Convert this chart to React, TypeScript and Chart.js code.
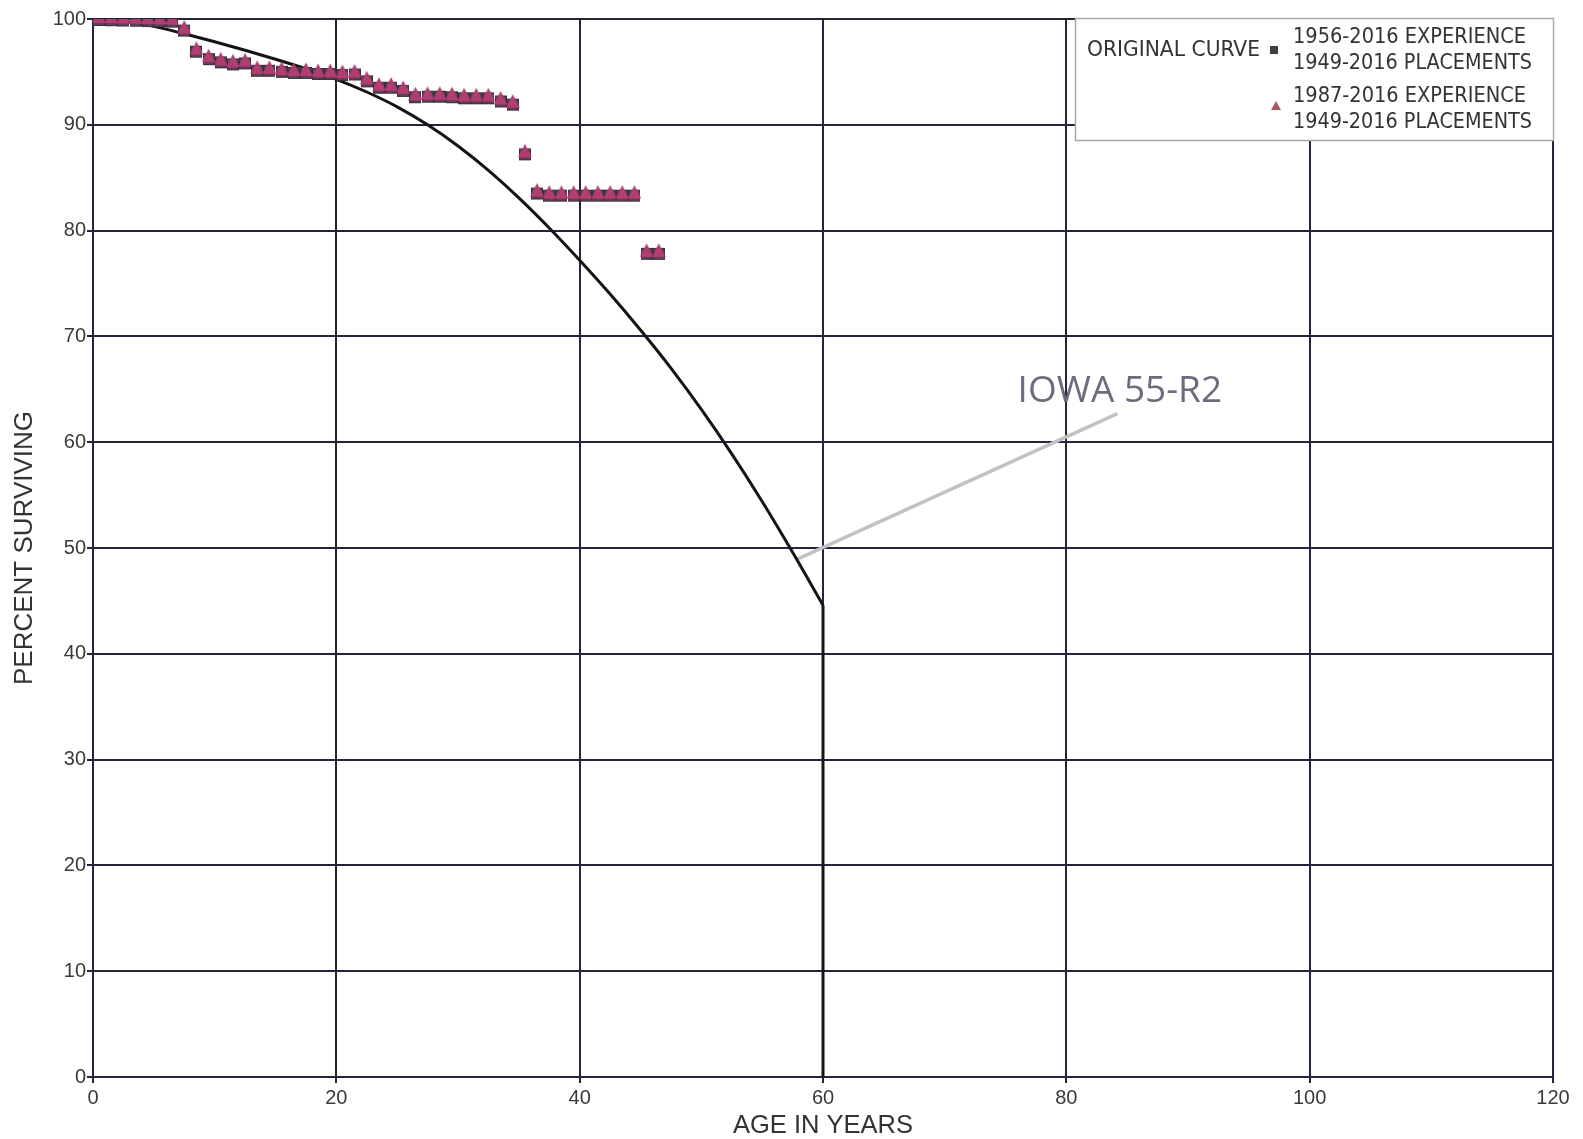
import React, { useEffect, useRef } from "react";
import { Chart, registerables } from "chart.js";

Chart.register(...registerables);

// ---------- data ----------
const expAges = [
  0, 0.5, 1.5, 2.5, 3.5, 4.5, 5.5, 6.5, 7.5, 8.5, 9.5, 10.5, 11.5, 12.5, 13.5, 14.5,
  15.5, 16.5, 17.5, 18.5, 19.5, 20.5, 21.5, 22.5, 23.5, 24.5, 25.5, 26.5, 27.5, 28.5,
  29.5, 30.5, 31.5, 32.5, 33.5, 34.5, 35.5, 36.5, 37.5, 38.5, 39.5, 40.5, 41.5, 42.5,
  43.5, 44.5, 45.5, 46.5,
];
const exp1956 = [
  100, 100, 99.98, 99.95, 99.93, 99.9, 99.88, 99.85, 99.0, 97.0, 96.3, 96.0, 95.8, 95.9,
  95.2, 95.2, 95.1, 95.0, 95.0, 94.9, 94.9, 94.8, 94.85, 94.2, 93.6, 93.6, 93.3, 92.7,
  92.75, 92.75, 92.7, 92.6, 92.6, 92.6, 92.3, 92.0, 87.3, 83.6, 83.4, 83.4, 83.4, 83.4,
  83.4, 83.4, 83.4, 83.4, 77.9, 77.9,
];
const exp1987 = [
  100, 100, 99.98, 99.95, 99.93, 99.9, 99.88, 99.85, 99.0, 97.0, 96.3, 96.0, 95.8, 95.9,
  95.2, 95.2, 95.1, 95.0, 95.0, 94.9, 94.9, 94.8, 94.85, 94.2, 93.6, 93.6, 93.3, 92.7,
  92.75, 92.75, 92.7, 92.6, 92.6, 92.6, 92.3, 92.0, 87.3, 83.6, 83.4, 83.4, 83.4, 83.4,
  83.4, 83.4, 83.4, 83.4, 77.9, 77.9,
];
const curveAges = [
  0, 2.5, 5, 7.5, 10, 12.5, 15, 17.5, 20, 22.5, 25, 27.5, 30, 32.5, 35, 37.5, 40, 42.5,
  45, 47.5, 50, 52.5, 55, 57.5, 60,
];
const curveValues = [
  100, 99.8, 99.3, 98.6, 97.85, 97.05, 96.2, 95.3, 94.3, 93.1, 91.7, 90.0, 88.0, 85.7,
  83.1, 80.25, 77.2, 74.0, 70.6, 67.0, 63.1, 58.9, 54.4, 49.6, 44.6,
];
const dropAges = [60, 60];
const dropValues = [44.6, 0];
const leaderAges = [57.8, 84.2];
const leaderValues = [48.9, 62.7];
const annotationText = "IOWA 55-R2";
const annotationAge = 84.4;
const annotationValue = 64.8;

const xTickStep = 20;
const yTickStep = 10;
const xTitle = "AGE IN YEARS";
const yTitle = "PERCENT SURVIVING";
const legendCurve = "ORIGINAL CURVE";
const legend1 = ["1956-2016 EXPERIENCE", "1949-2016 PLACEMENTS"];
const legend2 = ["1987-2016 EXPERIENCE", "1949-2016 PLACEMENTS"];

const pts = (xs: number[], ys: number[]) => xs.map((x, i) => ({ x, y: ys[i] }));

const GRID = "#24243a";
const TICK_FONT = { family: "'Liberation Sans', Arial, sans-serif", size: 20 };

function fitText(ctx: CanvasRenderingContext2D, text: string, x: number, y: number, w: number) {
  const m = ctx.measureText(text).width;
  ctx.save();
  ctx.translate(x, y);
  ctx.scale(w / m, 1);
  ctx.textAlign = "left";
  ctx.textBaseline = "middle";
  ctx.fillText(text, 0, 0);
  ctx.restore();
}

function makeSquareMarker() {
  const c = document.createElement("canvas");
  c.width = 12;
  c.height = 16;
  const g = c.getContext("2d")!;
  g.fillStyle = "#3e2f3b";
  g.fillRect(0, 3, 12, 12);
  g.fillStyle = "#5c4256";
  g.fillRect(1, 4, 10, 10);
  return c;
}

function makeTriangleMarker() {
  const c = document.createElement("canvas");
  c.width = 14;
  c.height = 22;
  const g = c.getContext("2d")!;
  g.fillStyle = "#b23d70";
  g.beginPath();
  g.moveTo(7, 1.5);
  g.lineTo(13.8, 15);
  g.lineTo(0.2, 15);
  g.closePath();
  g.fill();
  return c;
}

const overlayPlugin = {
  id: "overlay",
  afterDatasetsDraw(chart: any) {
    const ctx = chart.ctx as CanvasRenderingContext2D;
    const xs = chart.scales.x;
    const ys = chart.scales.y;
    ctx.save();
    ctx.font = "37px 'Open Sans', sans-serif";
    ctx.fillStyle = "#6c6c7e";
    ctx.textAlign = "center";
    ctx.textBaseline = "middle";
    ctx.fillText(annotationText, xs.getPixelForValue(annotationAge), ys.getPixelForValue(annotationValue));
    ctx.restore();
  },
  afterDraw(chart: any) {
    const ctx = chart.ctx as CanvasRenderingContext2D;
    ctx.save();
    // legend box
    ctx.fillStyle = "#ffffff";
    ctx.fillRect(1075, 18, 478, 122);
    ctx.strokeStyle = "#a8a8a8";
    ctx.lineWidth = 1.5;
    ctx.strokeRect(1075.5, 18.5, 478, 122);
    ctx.fillStyle = "#333333";
    ctx.font = "22px 'DejaVu Sans Condensed', 'DejaVu Sans', sans-serif";
    fitText(ctx, legendCurve, 1087, 50, 173);
    fitText(ctx, legend1[0], 1293, 37, 233);
    fitText(ctx, legend1[1], 1293, 63, 239);
    fitText(ctx, legend2[0], 1293, 96, 233);
    fitText(ctx, legend2[1], 1293, 122, 239);
    // markers
    ctx.fillStyle = "#3f3f3f";
    ctx.fillRect(1270, 46, 8, 8);
    ctx.fillStyle = "#a65a60";
    ctx.beginPath();
    ctx.moveTo(1276, 101);
    ctx.lineTo(1281, 110);
    ctx.lineTo(1271, 110);
    ctx.closePath();
    ctx.fill();
    ctx.restore();
  },
};

export default function App() {
  const ref = useRef<HTMLCanvasElement | null>(null);
  useEffect(() => {
    document.body.style.margin = "0";
    const canvas = ref.current!;
    const squareImg = makeSquareMarker();
    const triImg = makeTriangleMarker();
    const chart = new Chart(canvas, {
      type: "scatter",
      data: {
        datasets: [
          {
            label: legend2.join(" "),
            data: pts(expAges, exp1987),
            pointStyle: triImg,
            pointRadius: 7,
            showLine: false,
          },
          {
            label: legend1.join(" "),
            data: pts(expAges, exp1956),
            pointStyle: squareImg,
            pointRadius: 6,
            showLine: false,
          },
          {
            label: legendCurve,
            data: pts(curveAges, curveValues),
            showLine: true,
            pointRadius: 0,
            borderColor: "#141414",
            borderWidth: 3,
            cubicInterpolationMode: "monotone",
          },
          {
            label: "drop",
            data: pts(dropAges, dropValues),
            showLine: true,
            pointRadius: 0,
            borderColor: "#141414",
            borderWidth: 3,
          },
          {
            label: "leader",
            data: pts(leaderAges, leaderValues),
            showLine: true,
            pointRadius: 0,
            borderColor: "#c2c2c2",
            borderWidth: 3.5,
          },
        ],
      },
      options: {
        animation: false,
        responsive: false,
        devicePixelRatio: 1,
        layout: { padding: { top: 19, right: 30, bottom: 0, left: 0 } },
        plugins: { legend: { display: false }, tooltip: { enabled: false } },
        scales: {
          x: {
            type: "linear",
            min: 0,
            max: 120,
            afterFit: (s: any) => {
              s.height = 62;
            },
            ticks: { stepSize: xTickStep, color: "#3a3a3a", font: TICK_FONT, padding: 3, maxRotation: 0 },
            grid: { color: GRID, lineWidth: 2, tickLength: 6 },
            border: { color: GRID, width: 2 },
            title: {
              display: true,
              text: xTitle,
              color: "#333333",
              font: { family: "'Liberation Sans', Arial, sans-serif", size: 25.5 },
              padding: { top: 0, bottom: -2 },
            },
          },
          y: {
            type: "linear",
            min: 0,
            max: 100,
            afterFit: (s: any) => {
              s.width = 93;
            },
            ticks: { stepSize: yTickStep, color: "#3a3a3a", font: TICK_FONT, padding: 1 },
            grid: { color: GRID, lineWidth: 2, tickLength: 6 },
            border: { color: GRID, width: 2 },
            title: {
              display: true,
              text: yTitle,
              color: "#333333",
              font: { family: "'Liberation Sans', Arial, sans-serif", size: 26 },
              padding: { top: 9, bottom: 0 },
            },
          },
        },
      },
      plugins: [overlayPlugin],
    } as any);
    return () => chart.destroy();
  }, []);
  return (
    <div style={{ position: "fixed", left: 0, top: 0, width: 1583, height: 1139, background: "#fff" }}>
      <canvas ref={ref} width={1583} height={1139} style={{ display: "block" }} />
    </div>
  );
}
